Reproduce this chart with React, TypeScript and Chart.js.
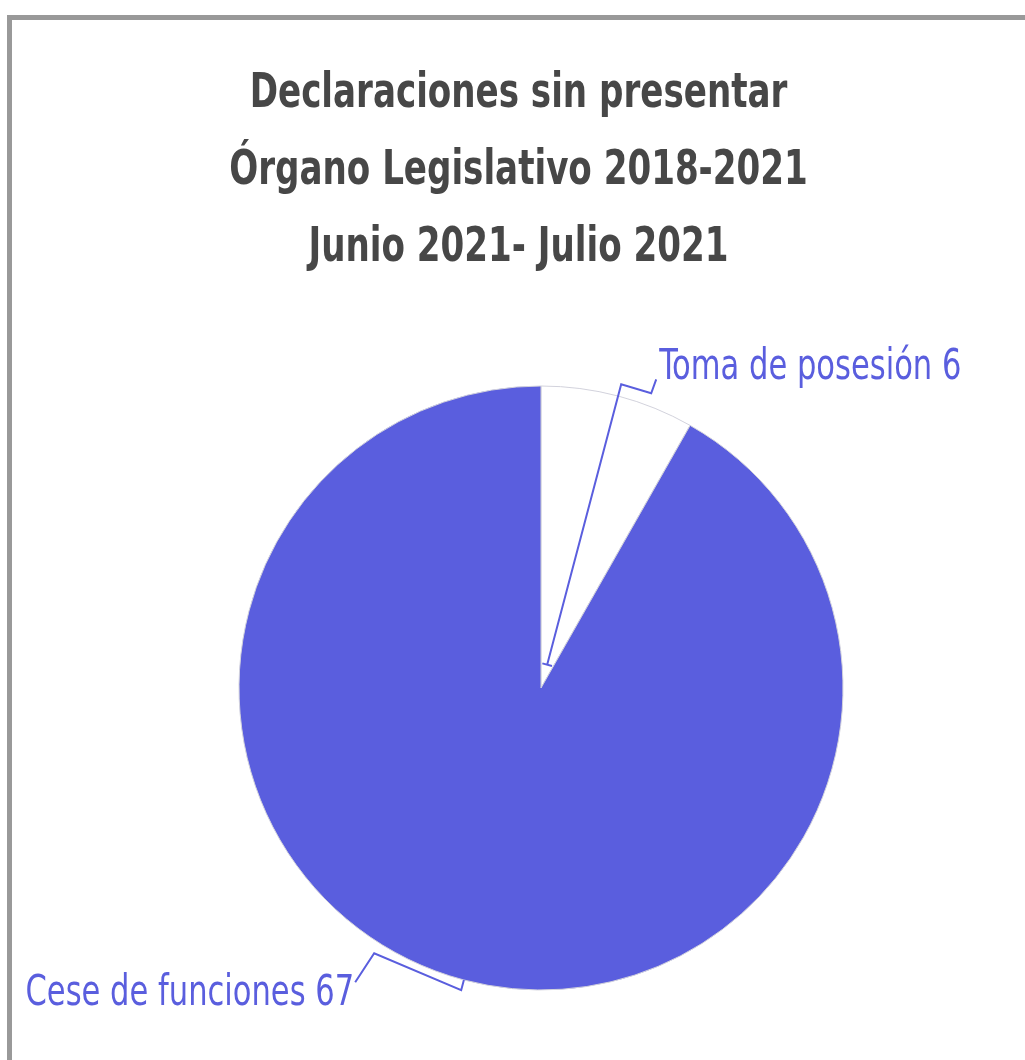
import React, { useEffect, useRef } from "react";
import { Chart, registerables } from "chart.js";

Chart.register(...registerables);

const titleLines = [
  "Declaraciones sin presentar",
  "Órgano Legislativo 2018-2021",
  "Junio 2021- Julio 2021",
];
const categories = ["Toma de posesión", "Cese de funciones"];
const values = [6, 67];
const sliceColors = ["#ffffff", "#5a5ede"];

const NARROW = '"Liberation Sans Narrow", "DejaVu Sans Condensed", "Open Sans", sans-serif';
const LABEL_COLOR = "#5a5ede";
const SQUEEZE = 0.79;

function fillNarrow(ctx: CanvasRenderingContext2D, text: string, x: number, y: number, k: number) {
  const w = ctx.measureText(text).width;
  ctx.fillText(text, x, y, w * k);
}

const titlePlugin = {
  id: "customTitle",
  afterDraw(chart: any) {
    const ctx = chart.ctx;
    ctx.save();
    ctx.font = `bold 48px ${NARROW}`;
    ctx.fillStyle = "#474747";
    ctx.textAlign = "center";
    ctx.textBaseline = "alphabetic";
    const cx = chart.width / 2;
    titleLines.forEach((line, i) => {
      fillNarrow(ctx, line, cx, 87 + i * 77, SQUEEZE);
    });
    ctx.restore();
  },
};

const labelPlugin = {
  id: "pieLabels",
  afterDatasetsDraw(chart: any) {
    const ctx = chart.ctx;
    const meta = chart.getDatasetMeta(0);
    ctx.save();
    ctx.strokeStyle = LABEL_COLOR;
    ctx.fillStyle = LABEL_COLOR;
    ctx.lineWidth = 2;
    ctx.lineJoin = "miter";
    ctx.font = `43px ${NARROW}`;
    ctx.textBaseline = "alphabetic";
    meta.data.forEach((arc: any, i: number) => {
      const { x, y, startAngle, endAngle, outerRadius } = arc.getProps(
        ["x", "y", "startAngle", "endAngle", "outerRadius"],
        true
      );
      const a = (startAngle + endAngle) / 2;
      const pt = (f: number) => ({
        x: x + Math.cos(a) * outerRadius * f,
        y: y + Math.sin(a) * outerRadius * f,
      });
      const text = `${categories[i]} ${values[i]}`;
      if (Math.cos(a) >= 0) {
        const p0 = pt(0.08);
        const p1 = pt(1.04);
        ctx.beginPath();
        ctx.moveTo(p0.x, p0.y);
        ctx.lineTo(p1.x, p1.y);
        ctx.lineTo(p1.x + 30, p1.y + 9);
        ctx.lineTo(p1.x + 35, p1.y - 5);
        ctx.stroke();
        const px = -Math.sin(a);
        const py = Math.cos(a);
        ctx.beginPath();
        ctx.moveTo(p0.x - 5 * px, p0.y - 5 * py);
        ctx.lineTo(p0.x + 5 * px, p0.y + 5 * py);
        ctx.stroke();
        ctx.textAlign = "left";
        fillNarrow(ctx, text, p1.x + 38, p1.y - 5, SQUEEZE);
      } else {
        const p0 = pt(1.0);
        const p1 = pt(1.035);
        ctx.beginPath();
        ctx.moveTo(p0.x, p0.y);
        ctx.lineTo(p1.x, p1.y);
        ctx.lineTo(p1.x - 87, p1.y - 37);
        ctx.lineTo(p1.x - 106, p1.y - 8);
        ctx.stroke();
        ctx.textAlign = "right";
        fillNarrow(ctx, text, p1.x - 107, p1.y + 15, SQUEEZE);
      }
    });
    ctx.restore();
  },
};

export default function App() {
  const ref = useRef<HTMLCanvasElement | null>(null);
  useEffect(() => {
    if (!ref.current) return;
    const chart = new Chart(ref.current, {
      type: "pie",
      data: {
        labels: categories,
        datasets: [
          {
            data: values,
            backgroundColor: sliceColors,
            borderColor: "#d2d2dc",
            borderWidth: 1,
          },
        ],
      },
      options: {
        responsive: false,
        animation: false,
        radius: 302,
        layout: { padding: { left: 209, right: 164, top: 348, bottom: 112 } },
        plugins: {
          legend: { display: false },
          title: { display: false },
          tooltip: { enabled: false },
        },
      } as any,
      plugins: [titlePlugin, labelPlugin],
    });
    return () => chart.destroy();
  }, []);
  return (
    <div
      style={{
        position: "fixed",
        left: 7,
        top: 15,
        right: 0,
        bottom: 0,
        borderLeft: "5px solid #999999",
        borderTop: "5px solid #999999",
        overflow: "hidden",
        background: "#ffffff",
      }}
    >
      <canvas ref={ref} width={1013} height={1100} style={{ display: "block" }} />
    </div>
  );
}
